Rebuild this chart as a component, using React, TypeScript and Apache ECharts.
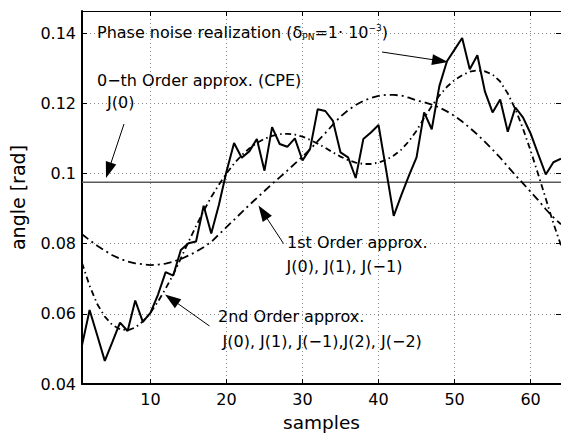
import React, { useEffect, useRef } from 'react';
import * as echarts from 'echarts';

// ---- data ----
const phaseNoise = [
  0.051, 0.0611, 0.0539, 0.0466, 0.052, 0.0575, 0.0551, 0.0638, 0.0577, 0.0603,
  0.0655, 0.0719, 0.0709, 0.0782, 0.0801, 0.0806, 0.0908, 0.0829, 0.091, 0.1005,
  0.1087, 0.1045, 0.1063, 0.1098, 0.1008, 0.1132, 0.1084, 0.1076, 0.11, 0.1037,
  0.107, 0.1183, 0.1178, 0.115, 0.106, 0.1046, 0.0987, 0.1098, 0.1117, 0.1138,
  0.101, 0.0879, 0.0938, 0.0994, 0.1046, 0.1174, 0.1126, 0.1249, 0.132, 0.1353,
  0.1386, 0.1297, 0.1337, 0.1233, 0.1174, 0.1211, 0.1119, 0.1188, 0.116, 0.1114,
  0.1055, 0.0997, 0.1032, 0.1042,
];

const firstOrder = [
  0.0827, 0.081, 0.0794, 0.078, 0.0767, 0.0757, 0.0749, 0.0744, 0.0741, 0.0739,
  0.074, 0.0743, 0.0749, 0.0756, 0.0766, 0.0777, 0.079, 0.0805, 0.0826, 0.0847,
  0.0868, 0.0889, 0.091, 0.093, 0.095, 0.097, 0.0989, 0.1008, 0.1028, 0.1048,
  0.1069, 0.1092, 0.1115, 0.1139, 0.1162, 0.118, 0.1195, 0.1207, 0.1215, 0.1221,
  0.1224, 0.1224, 0.1222, 0.1216, 0.1208, 0.1203, 0.1196, 0.1188, 0.1177, 0.1164,
  0.1148, 0.113, 0.1111, 0.109, 0.1068, 0.1045, 0.102, 0.0995, 0.0972, 0.0948,
  0.0924, 0.0898, 0.0875, 0.0855,
];

const secondOrder = [
  0.0745, 0.068, 0.0628, 0.0592, 0.0568, 0.0556, 0.0553, 0.0561, 0.0578, 0.0603,
  0.0635, 0.0672, 0.0712, 0.0758, 0.0805, 0.085, 0.0893, 0.0933, 0.0968, 0.1,
  0.1028, 0.1052, 0.1071, 0.1087, 0.1099, 0.1107, 0.1112, 0.1113, 0.1111, 0.1105,
  0.1096, 0.1085, 0.1073, 0.106, 0.1048, 0.1038, 0.1031, 0.1027, 0.1027, 0.1031,
  0.1039, 0.1051, 0.1068, 0.1092, 0.1122, 0.1158, 0.1192, 0.1222, 0.1247, 0.1266,
  0.128, 0.129, 0.1294, 0.1291, 0.1282, 0.1262, 0.1228, 0.1183, 0.1128, 0.1065,
  0.0998, 0.0928, 0.0858, 0.0795,
];

const cpeLevel = 0.0975;
const xRange = [1, 64];
const yRange = [0.04, 0.1463];
const yTickStep = 0.02;

const FONT = '"DejaVu Sans", sans-serif';

function toPairs(values: number[]) {
  return values.map((v, i) => [i + 1, v]);
}

function arrow(x1: number, y1: number, x2: number, y2: number, headLen = 16, halfW = 5.5) {
  const dx = x2 - x1;
  const dy = y2 - y1;
  const L = Math.hypot(dx, dy);
  const ux = dx / L;
  const uy = dy / L;
  const bx = x2 - ux * headLen;
  const by = y2 - uy * headLen;
  const px = -uy;
  const py = ux;
  return [
    {
      type: 'line',
      z: 100,
      shape: { x1, y1, x2: bx + ux * 2, y2: by + uy * 2 },
      style: { stroke: '#000', lineWidth: 1 },
    },
    {
      type: 'polygon',
      z: 100,
      shape: {
        points: [
          [x2, y2],
          [bx + px * halfW, by + py * halfW],
          [bx - px * halfW, by - py * halfW],
        ],
      },
      style: { fill: '#000' },
    },
  ];
}

function label(text: string, x: number, y: number, size = 16) {
  return {
    type: 'text',
    z: 100,
    x,
    y,
    style: {
      text,
      font: `${size}px ${FONT}`,
      fill: '#000',
      align: 'left',
      verticalAlign: 'middle',
      textAlign: 'left',
      textVerticalAlign: 'middle',
    },
  };
}

export default function App() {
  const ref = useRef<HTMLDivElement>(null);

  useEffect(() => {
    document.body.style.margin = '0';
    if (!ref.current) return;
    const chart = echarts.init(ref.current, undefined, { renderer: 'svg' });

    const axisText = { color: '#000', fontFamily: FONT, fontSize: 16 };

    const option: any = {
      animation: false,
      backgroundColor: '#fff',
      grid: { left: 82, right: -2, top: 11, bottom: 50, containLabel: false },
      xAxis: [
        {
          type: 'value',
          min: xRange[0],
          max: xRange[1],
          position: 'bottom',
          name: 'samples',
          nameLocation: 'middle',
          nameGap: 29,
          nameTextStyle: { color: '#000', fontFamily: FONT, fontSize: 18.5 },
          axisLine: { show: true, onZero: false, lineStyle: { color: '#000', width: 2 } },
          axisTick: { show: true, inside: true, length: 5, lineStyle: { color: '#000', width: 1 } },
          axisLabel: {
            ...axisText,
            margin: 7,
            showMinLabel: false,
            showMaxLabel: false,
            formatter: (v: number) => (v % 10 === 0 ? String(v) : ''),
          },
          splitLine: { show: true, lineStyle: { color: '#8a8a8a', width: 1, type: [1, 3] } },
        },
        {
          type: 'value',
          min: xRange[0],
          max: xRange[1],
          position: 'top',
          axisLine: { show: true, onZero: false, lineStyle: { color: '#000', width: 1 } },
          axisTick: { show: true, inside: true, length: 5, lineStyle: { color: '#000', width: 1 } },
          axisLabel: { show: false },
          splitLine: { show: false },
        },
      ],
      yAxis: [
        {
          type: 'value',
          min: yRange[0],
          max: yRange[1],
          interval: yTickStep,
          position: 'left',
          name: 'angle [rad]',
          nameLocation: 'middle',
          nameGap: 55,
          nameTextStyle: { color: '#000', fontFamily: FONT, fontSize: 19 },
          axisLine: { show: true, onZero: false, lineStyle: { color: '#000', width: 2 } },
          axisTick: { show: true, inside: true, length: 5, lineStyle: { color: '#000', width: 1 } },
          axisLabel: { ...axisText, margin: 6, showMaxLabel: false },
          splitLine: { show: true, lineStyle: { color: '#8a8a8a', width: 1, type: [1, 3] } },
        },
        {
          type: 'value',
          min: yRange[0],
          max: yRange[1],
          interval: yTickStep,
          position: 'right',
          axisLine: { show: true, onZero: false, lineStyle: { color: '#000', width: 1 } },
          axisTick: { show: true, inside: true, length: 5, lineStyle: { color: '#000', width: 1 } },
          axisLabel: { show: false },
          splitLine: { show: false },
        },
      ],
      series: [
        {
          type: 'line',
          name: 'CPE',
          data: [
            [xRange[0], cpeLevel],
            [xRange[1], cpeLevel],
          ],
          symbol: 'none',
          silent: true,
          lineStyle: { color: '#5a5a5a', width: 1.4 },
          z: 2,
        },
        {
          type: 'line',
          name: '1st order',
          data: toPairs(firstOrder),
          symbol: 'none',
          silent: true,
          lineStyle: { color: '#000', width: 1.8, type: [8, 4, 2, 4] },
          z: 3,
        },
        {
          type: 'line',
          name: '2nd order',
          data: toPairs(secondOrder),
          symbol: 'none',
          silent: true,
          lineStyle: { color: '#000', width: 1.8, type: [6, 3.5, 1.5, 3.5] },
          z: 3,
        },
        {
          type: 'line',
          name: 'Phase noise',
          data: toPairs(phaseNoise),
          symbol: 'none',
          silent: true,
          lineStyle: { color: '#000', width: 2 },
          z: 4,
        },
      ],
      graphic: [
        {
          type: 'text',
          z: 100,
          x: 97,
          y: 32,
          style: {
            text: '{a|Phase noise realization (δ}{s|PN}{a|=1· 10}{p|−3}{a|)}',
            font: `16px ${FONT}`,
            fill: '#000',
            align: 'left',
            verticalAlign: 'middle',
            rich: {
              a: { font: `16px ${FONT}`, fill: '#000', lineHeight: 18 },
              s: { font: `9px ${FONT}`, fill: '#000', lineHeight: 9, verticalAlign: 'bottom' },
              p: { font: `9px ${FONT}`, fill: '#000', lineHeight: 9, verticalAlign: 'top' },
            },
          },
        },
        label('0−th Order approx. (CPE)', 97, 80),
        label('J(0)', 107, 102),
        label('1st Order approx.', 287, 242),
        label('J(0), J(1), J(−1)', 286.5, 266),
        label('2nd Order approx.', 218, 316.5),
        label('J(0), J(1), J(−1),J(2), J(−2)', 222.5, 341),
        ...arrow(382, 52, 448, 62),
        ...arrow(124, 124, 106, 178),
        ...arrow(283.5, 243.5, 258.5, 205.5),
        ...arrow(209.5, 326, 165, 294.5),
      ],
    };

    chart.setOption(option);
    return () => {
      chart.dispose();
    };
  }, []);

  return (
    <div
      ref={ref}
      style={{ position: 'absolute', left: 0, top: 0, width: 561, height: 437, background: '#fff' }}
    />
  );
}
